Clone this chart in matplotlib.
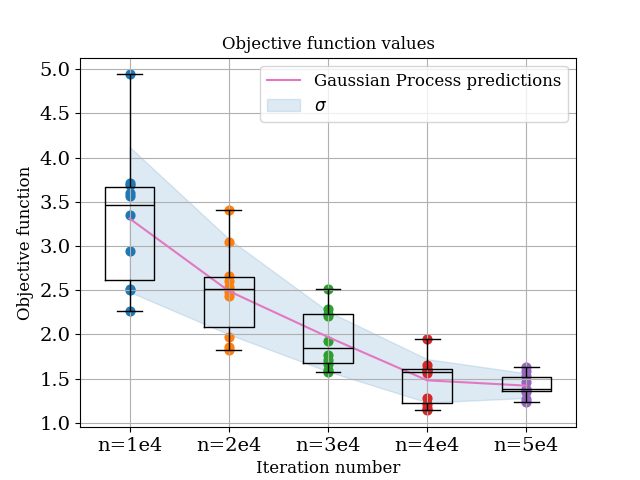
import matplotlib
matplotlib.use('Agg')
import matplotlib.pyplot as plt

plt.rcParams['font.family'] = 'DejaVu Serif'

# Objective function samples for each iteration budget
labels = ['n=1e4', 'n=2e4', 'n=3e4', 'n=4e4', 'n=5e4']
vals_1e4 = [2.26, 2.50, 2.51, 2.94, 3.35, 3.57, 3.60, 3.69, 3.71, 4.94]
vals_2e4 = [1.82, 1.86, 1.97, 2.43, 2.48, 2.54, 2.60, 2.66, 3.05, 3.41]
vals_3e4 = [1.57, 1.60, 1.66, 1.71, 1.77, 1.93, 2.21, 2.23, 2.29, 2.51]
vals_4e4 = [1.14, 1.17, 1.21, 1.28, 1.56, 1.58, 1.60, 1.61, 1.65, 1.95]
vals_5e4 = [1.23, 1.27, 1.35, 1.37, 1.375, 1.385, 1.46, 1.53, 1.58, 1.63]
samples = [vals_1e4, vals_2e4, vals_3e4, vals_4e4, vals_5e4]

# Gaussian process mean and sigma band
gp_mean = [3.31, 2.49, 1.97, 1.48, 1.42]
gp_upper = [4.12, 3.08, 2.26, 1.72, 1.56]
gp_lower = [2.48, 2.00, 1.58, 1.23, 1.28]

positions = [1, 2, 3, 4, 5]

fig, ax = plt.subplots(figsize=(6.4, 4.8), dpi=100)

ax.plot(positions, gp_mean, color='C6', label='Gaussian Process predictions')
ax.fill_between(positions, gp_lower, gp_upper, color='C0', alpha=0.15, label=r'$\sigma$')

for i, vals in enumerate(samples):
    ax.scatter([positions[i]] * len(vals), vals, color='C%d' % i, s=40)

ax.boxplot(samples, positions=positions, medianprops=dict(color='black'))

ax.set_xticks(positions)
ax.set_xticklabels(labels, fontsize=14)
ax.tick_params(axis='y', labelsize=14)
ax.set_yticks([1.0, 1.5, 2.0, 2.5, 3.0, 3.5, 4.0, 4.5, 5.0])
ax.grid(True)
ax.set_title('Objective function values', fontsize=12)
ax.set_xlabel('Iteration number', fontsize=12)
ax.set_ylabel('Objective function', fontsize=12)
ax.legend(loc='upper right', fontsize=12)

plt.savefig('out.png')
